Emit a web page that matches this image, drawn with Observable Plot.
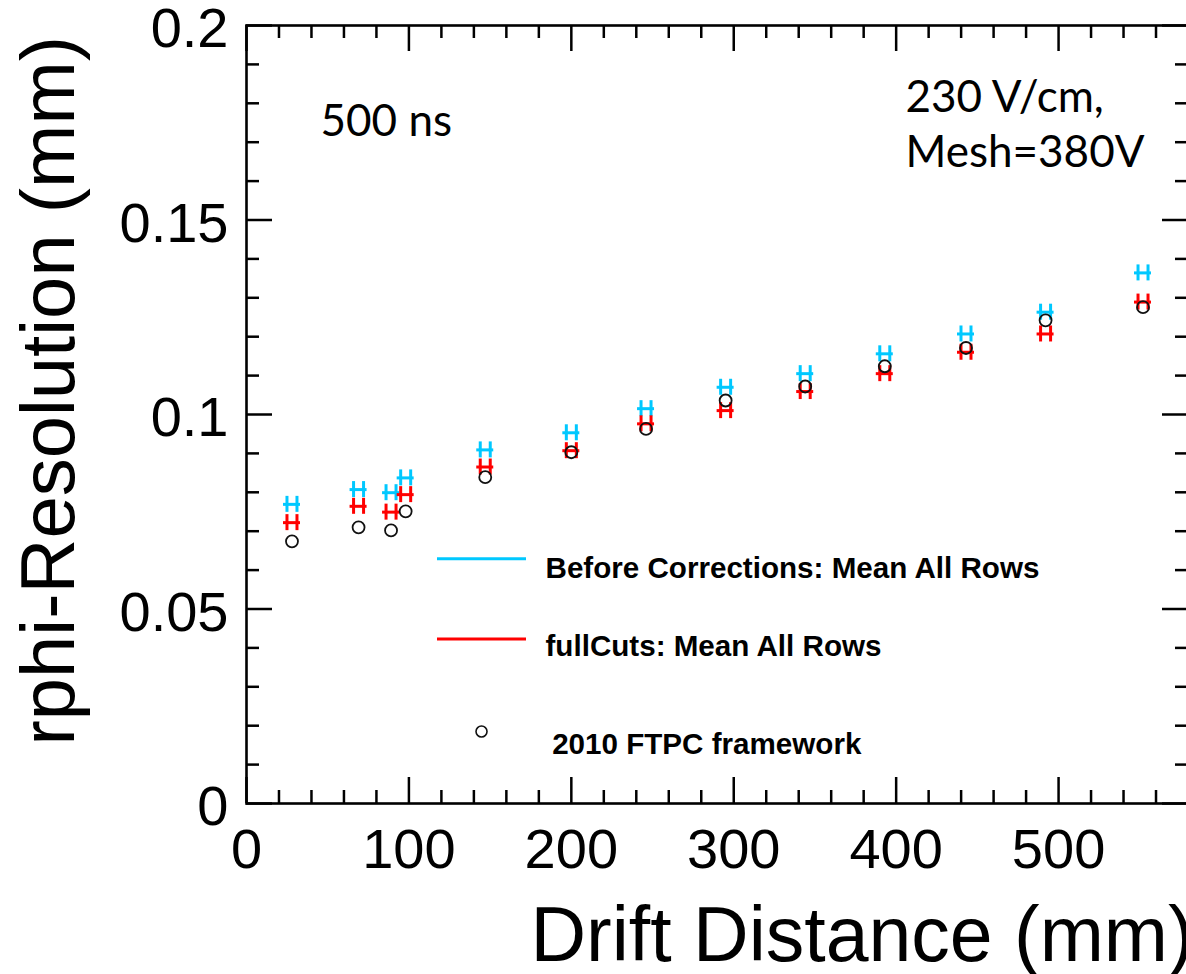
<!DOCTYPE html>
<html>
<head>
<meta charset="utf-8">
<script src="https://cdn.jsdelivr.net/npm/d3@7"></script>
<script src="https://cdn.jsdelivr.net/npm/@observablehq/plot@0.6"></script>
<style>
  html, body { margin: 0; padding: 0; background: #fff; overflow: hidden; }
</style>
</head>
<body>
<div id="chart"></div>
<script>
// ---- data ----
const drift      = [28, 69, 89, 98, 147, 200, 246, 295, 344, 393, 443, 492, 552];
const beforeCorr = [0.0769, 0.0807, 0.0799, 0.0837, 0.0909, 0.0953, 0.1015, 0.1070, 0.1105, 0.1156, 0.1207, 0.1263, 0.1364];
const fullCuts   = [0.0722, 0.0764, 0.0749, 0.0794, 0.0865, 0.0907, 0.0976, 0.1010, 0.1059, 0.1105, 0.1160, 0.1207, 0.1289];
const ftpc2010   = [0.0674, 0.0710, 0.0702, 0.0751, 0.0839, 0.0903, 0.0963, 0.1036, 0.1072, 0.1124, 0.1171, 0.1242, 0.1276];

const xTickValues  = [0, 100, 200, 300, 400, 500];
const xMinorValues = [20, 40, 60, 80, 120, 140, 160, 180, 220, 240, 260, 280, 320, 340, 360, 380, 420, 440, 460, 480, 520, 540, 560];
const yTickValues  = [0, 0.05, 0.1, 0.15, 0.2];
const yMinorValues = [0.01, 0.02, 0.03, 0.04, 0.06, 0.07, 0.08, 0.09, 0.11, 0.12, 0.13, 0.14, 0.16, 0.17, 0.18, 0.19];

const seriesNames  = ["Before Corrections: Mean All Rows", "fullCuts: Mean All Rows", "2010 FTPC framework"];
const seriesColors = ["#00c8ff", "#ff0000", "#111111"];

const xTitle = "Drift Distance (mm)";
const yTitle = "rphi-Resolution (mm)";

// annotations (anchored in data coordinates)
const notes = [
  {text: "500 ns",    x: 45.6,  y: 0.1717},
  {text: "230 V/cm,", x: 405.8, y: 0.1777},
  {text: "Mesh=380V", x: 405.8, y: 0.1636}
];
// legend anchors (data coordinates)
const legendLines = [
  {x1: 117.6, x2: 172.4, y: 0.0629, color: seriesColors[0]},
  {x1: 117.6, x2: 172.4, y: 0.0423, color: seriesColors[1]}
];
const legendTexts = [
  {text: seriesNames[0], x: 184.1, y: 0.0580},
  {text: seriesNames[1], x: 184.1, y: 0.0380},
  {text: seriesNames[2], x: 188.2, y: 0.0128}
];
const legendMarker = [{x: 144.7, y: 0.0185}];

// ---- build ----
const rows = drift.map((x, i) => ({x, before: beforeCorr[i], full: fullCuts[i], ftpc: ftpc2010[i]}));

const W = 1200, H = 974;
const font = "'Liberation Sans', Arial, Helvetica, sans-serif";

function hGlyph(key, color) {
  return [
    Plot.ruleY(rows, {y: key, x1: "x", x2: "x", insetLeft: -8.5, insetRight: -8.5, stroke: color, strokeWidth: 3}),
    Plot.ruleX(rows, {x: "x", y1: key, y2: key, insetTop: -8, insetBottom: -8, dx: -5, stroke: color, strokeWidth: 3}),
    Plot.ruleX(rows, {x: "x", y1: key, y2: key, insetTop: -8, insetBottom: -8, dx: 5, stroke: color, strokeWidth: 3})
  ];
}

const chart = Plot.plot({
  width: W,
  height: H,
  marginLeft: 246,
  marginRight: W - 1188,
  marginTop: 25,
  marginBottom: H - 803,
  x: {domain: [0, 580]},
  y: {domain: [0, 0.2]},
  style: {fontFamily: font, maxWidth: "none", background: "white", color: "black", overflow: "visible"},
  marks: [
    // inward ticks, ROOT style
    Plot.ruleX(xTickValues,  {x: d => d, y1: 0, y2: 0, insetTop: -26, stroke: "black", strokeWidth: 2.5}),
    Plot.ruleX(xMinorValues, {x: d => d, y1: 0, y2: 0, insetTop: -13, stroke: "black", strokeWidth: 2.5}),
    Plot.ruleX(xTickValues,  {x: d => d, y1: 0.2, y2: 0.2, insetBottom: -26, stroke: "black", strokeWidth: 2.5}),
    Plot.ruleX(xMinorValues, {x: d => d, y1: 0.2, y2: 0.2, insetBottom: -13, stroke: "black", strokeWidth: 2.5}),
    Plot.ruleY(yTickValues,  {y: d => d, x1: 0, x2: 0, insetRight: -26, stroke: "black", strokeWidth: 2.5}),
    Plot.ruleY(yMinorValues, {y: d => d, x1: 0, x2: 0, insetRight: -13, stroke: "black", strokeWidth: 2.5}),
    Plot.ruleY(yTickValues,  {y: d => d, x1: 580, x2: 580, insetLeft: -26, stroke: "black", strokeWidth: 2.5}),
    Plot.ruleY(yMinorValues, {y: d => d, x1: 580, x2: 580, insetLeft: -13, stroke: "black", strokeWidth: 2.5}),
    Plot.frame({stroke: "black", strokeWidth: 2.6}),

    // tick labels
    Plot.axisX(xTickValues, {anchor: "bottom", tickSize: 0, tickPadding: 25, fontSize: 56, label: null, tickFormat: d => String(d)}),
    Plot.axisY(yTickValues, {anchor: "left", tickSize: 0, tickPadding: 18, dy: 4, fontSize: 56, label: null, tickFormat: d => String(d)}),

    // axis titles
    Plot.text([xTitle], {frameAnchor: "bottom-left", textAnchor: "start", lineAnchor: "bottom", dx: 284, dy: 157, fontSize: 77}),
    Plot.text([yTitle], {frameAnchor: "bottom-left", textAnchor: "start", lineAnchor: "middle", rotate: -90, dx: -197, dy: -58, fontSize: 76}),

    // data
    ...hGlyph("before", seriesColors[0]),
    ...hGlyph("full", seriesColors[1]),
    Plot.dot(rows, {x: "x", y: "ftpc", r: 6, stroke: seriesColors[2], strokeWidth: 1.8, fill: "none"}),

    // annotations
    Plot.text(notes, {x: "x", y: "y", text: "text", textAnchor: "start", lineAnchor: "bottom", fontSize: 44, fontFamily: "Lato, 'Open Sans', sans-serif"}),

    // legend
    Plot.ruleY(legendLines, {x1: "x1", x2: "x2", y: "y", stroke: "color", strokeWidth: 3}),
    Plot.dot(legendMarker, {x: "x", y: "y", r: 5.5, stroke: seriesColors[2], strokeWidth: 1.6, fill: "none"}),
    Plot.text(legendTexts, {x: "x", y: "y", text: "text", textAnchor: "start", lineAnchor: "bottom", fontSize: 29.6, fontWeight: "bold"})
  ]
});

document.getElementById("chart").appendChild(chart);
</script>
</body>
</html>
